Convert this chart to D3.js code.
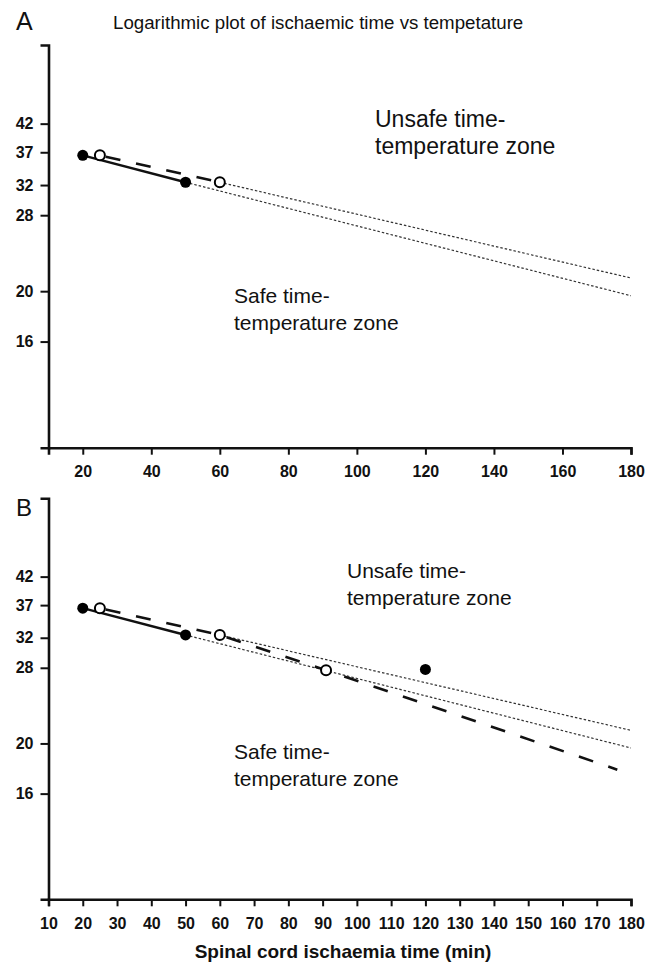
<!DOCTYPE html>
<html lang="en">
<head>
<meta charset="UTF-8">
<title>Ischaemic time vs temperature</title>
<script src="https://cdn.jsdelivr.net/npm/d3@7"></script>
<style>
  body { margin: 0; background: #fff; }
  text { font-family: "Liberation Sans", Arial, sans-serif; fill: #111; }
  .tick text { font-weight: bold; font-size: 16px; }
</style>
</head>
<body>
<script>
// values (time in min, temperature in deg C)
const xTicksA = [20, 40, 60, 80, 100, 120, 140, 160, 180];
const xTicksB = d3.range(10, 181, 10);
const yTicks = [16, 20, 28, 32, 37, 42];

const filledTime = [20, 50];
const filledTemp = [36.5, 32.4];
const openTime = [25, 60];
const openTemp = [36.5, 32.4];

// panel B extras
const dashTimeB = [25, 60, 91, 176];
const dashTempB = [36.5, 32.4, 27.7, 17.8];
const openExtraB = [[91, 27.7]];
const filledExtraB = [[120, 27.8]];

// dotted extrapolations (start at last measured point, run to 180)
const lowerDotTime = [50, 180];
const lowerDotTemp = [32.4, 19.6];
const upperDotTime = [60, 180];
const upperDotTemp = [32.4, 21.2];

const width = 658, height = 965;
const svg = d3.select("body").append("svg")
  .attr("width", width)
  .attr("height", height);

const x = d3.scaleLinear().domain([10, 180]).range([48.5, 631]);

const zip = (a, b) => a.map((v, i) => [v, b[i]]);

function panel(top, bottom, xTicks, isB) {
  const y = d3.scaleLog().domain([10, 59.5]).range([bottom, top]);
  const g = svg.append("g");
  const line = d3.line().x(d => x(d[0])).y(d => y(d[1]));

  // dotted extrapolation lines
  [zip(lowerDotTime, lowerDotTemp), zip(upperDotTime, upperDotTemp)].forEach(pts => {
    g.append("path").attr("d", line(pts))
      .attr("fill", "none").attr("stroke", "#333")
      .attr("stroke-width", 1.2).attr("stroke-dasharray", "2.5,2");
  });

  // dashed line through open points
  const dashPts = isB ? zip(dashTimeB, dashTempB) : zip(openTime, openTemp);
  g.append("path").attr("d", line(dashPts))
    .attr("fill", "none").attr("stroke", "#111")
    .attr("stroke-width", 2.6).attr("stroke-dasharray", "15,16")
    .attr("stroke-dashoffset", -6);

  // solid line through filled points
  g.append("path").attr("d", line(zip(filledTime, filledTemp)))
    .attr("fill", "none").attr("stroke", "#111").attr("stroke-width", 2.4);

  const filled = zip(filledTime, filledTemp).concat(isB ? filledExtraB : []);
  const open = zip(openTime, openTemp).concat(isB ? openExtraB : []);

  g.selectAll(".filled").data(filled).join("circle")
    .attr("cx", d => x(d[0])).attr("cy", d => y(d[1])).attr("r", 5.5)
    .attr("fill", "#000");
  g.selectAll(".open").data(open).join("circle")
    .attr("cx", d => x(d[0])).attr("cy", d => y(d[1])).attr("r", 5)
    .attr("fill", "#fff").attr("stroke", "#000").attr("stroke-width", 2);

  // axes
  const xAxis = g.append("g").attr("transform", `translate(0,${bottom})`)
    .call(d3.axisBottom(x).tickValues(xTicks).tickSizeOuter(0).tickSize(7).tickPadding(11));
  const yAxis = g.append("g").attr("transform", `translate(${x(10)},0)`)
    .call(d3.axisLeft(y).tickValues(yTicks).tickFormat(d3.format("d"))
      .tickSizeOuter(0).tickSize(8).tickPadding(7));
  [xAxis, yAxis].forEach(a => {
    a.select(".domain").attr("stroke", "#111").attr("stroke-width", 2.6);
    a.selectAll(".tick line").attr("stroke", "#111").attr("stroke-width", 2);
    a.selectAll(".tick text").attr("fill", "#111");
  });
  return y;
}

panel(45, 447.7, xTicksA, false);
panel(498.3, 899.3, xTicksB, true);

// text
svg.append("text").attr("x", 16).attr("y", 30).attr("font-size", 25).text("A");
svg.append("text").attr("x", 16).attr("y", 516).attr("font-size", 24).text("B");
svg.append("text").attr("x", 113).attr("y", 29).attr("font-size", 18.7)
  .text("Logarithmic plot of ischaemic time vs tempetature");

function zoneLabel(x0, y0, first, size) {
  const t = svg.append("text").attr("x", x0).attr("y", y0).attr("font-size", size);
  t.append("tspan").attr("x", x0).text(first + " time-");
  t.append("tspan").attr("x", x0).attr("dy", 27).text("temperature zone");
}
zoneLabel(375, 127, "Unsafe", 23);
zoneLabel(234, 303, "Safe", 21);
zoneLabel(347, 578, "Unsafe", 21);
zoneLabel(234, 759, "Safe", 21);

svg.append("text").attr("x", 343).attr("y", 958).attr("text-anchor", "middle")
  .attr("font-size", 19).attr("font-weight", "bold")
  .text("Spinal cord ischaemia time (min)");
</script>
</body>
</html>
